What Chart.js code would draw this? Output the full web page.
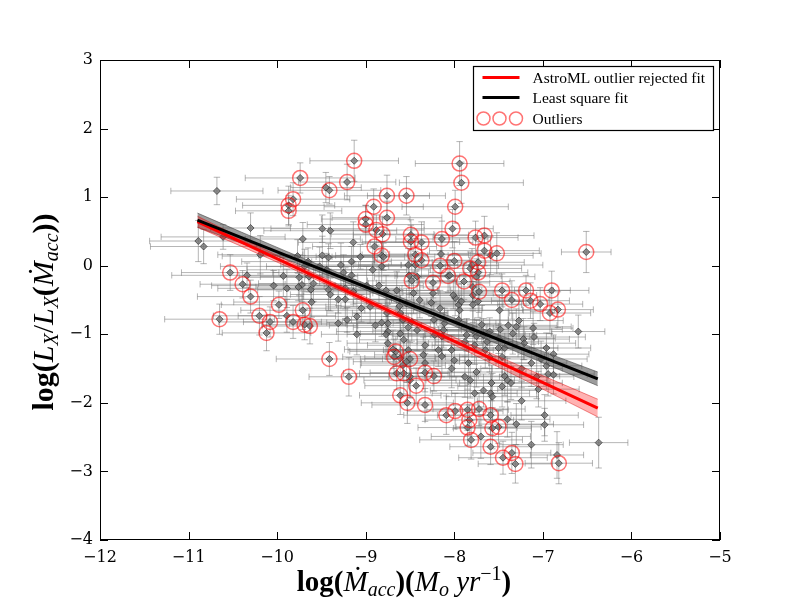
<!DOCTYPE html>
<html><head><meta charset="utf-8">
<script src="https://cdn.jsdelivr.net/npm/chart.js@4.4.1/dist/chart.umd.min.js"></script>
<style>html,body{margin:0;padding:0;background:#fff}canvas{display:block}</style>
</head><body>
<canvas id="c" width="800" height="600"></canvas>
<script>
// ---------- data ----------
const xTicks = [-12,-11,-10,-9,-8,-7,-6,-5];
const yTicks = [-4,-3,-2,-1,0,1,2,3];

// points kept by the AstroML fit (log Mdot_acc, log Lx/Lx(Mdot))
const inX = [
-10.68,-10.30,-10.89,-10.83,-10.61,-10.19,-9.71,-9.49,-9.40,-9.45,
-9.14,-9.06,-9.77,-9.49,-9.42,-9.28,-9.16,-9.25,-9.16,-9.44,
-9.52,-9.65,-9.69,-9.93,-10.04,-10.34,-9.75,-9.72,-9.76,-9.89,
-9.64,-9.59,-9.62,-9.42,-9.40,-9.31,-9.23,-9.61,-8.85,-8.92,
-8.82,-8.80,-8.65,-8.54,-9.31,-9.21,-9.10,-8.89,-8.82,-8.75,
-8.75,-8.77,-9.05,-8.95,-9.23,-9.14,-8.99,-8.77,-9.10,-8.62,
-8.61,-8.58,-8.57,-8.52,-8.69,-8.61,-8.58,-8.54,-8.50,-8.44,
-8.52,-8.51,-8.42,-8.46,-8.39,-8.26,-8.24,-8.15,-8.05,-7.99,
-7.95,-7.79,-7.79,-7.80,-7.59,-7.79,-7.75,-7.22,-7.11,-7.10,
-6.88,-6.96,-7.30,-7.39,-7.48,-7.60,-7.63,-7.50,-7.79,-7.75,
-7.94,-7.95,-8.16,-8.01,-8.14,-8.18,-8.03,-8.61,-8.76,-8.75,
-6.60,-6.37,-6.96,-6.94,-7.05,-6.98,-6.98,-7.13,-7.24,-7.30,
-7.40,-7.70,-7.49,-7.27,-7.34,-7.21,-7.13,-7.02,-7.24,-7.43,
-7.50,-7.46,-7.43,-7.40,-7.36,-7.46,-7.58,-7.59,-7.57,-7.67,
-7.77,-7.75,-7.88,-7.82,-7.84,-8.00,-8.03,-8.14,-8.33,-8.35,
-8.52,-8.50,-8.23,-8.11,-7.77,-7.86,-7.88,-7.65,-7.60,-7.69,
-7.73,-7.92,-8.48,-8.42,-8.22,-8.12,-7.67,-7.07,-6.88,-8.33,
-9.89,-6.84];
const inY = [
1.09,0.55,0.36,0.28,0.42,0.16,0.39,0.54,0.51,1.14,
0.34,0.13,0.14,0.15,0.12,0.01,0.06,-0.10,-0.14,-0.06,
-0.01,0.06,-0.01,-0.15,-0.29,-0.14,-0.17,-0.28,-0.31,-0.33,
-0.16,-0.26,-0.35,-0.35,-0.42,-0.49,-0.49,-0.53,-0.29,-0.06,
-0.01,0.13,-0.36,-0.55,-0.84,-0.79,-1.00,-0.87,-0.83,-0.84,
-0.96,-1.00,-0.62,-0.60,-0.33,-0.38,-0.29,-0.36,-0.74,-0.59,
-0.99,-0.79,-1.08,-0.90,-1.22,-1.35,-1.45,-1.40,-1.67,0.01,
0.01,-0.14,-0.16,-0.40,-0.50,-0.54,-0.40,0.17,-0.14,-0.47,
-0.57,-0.43,-0.57,0.01,0.15,-0.31,-0.16,-1.07,-0.91,-1.04,
-1.29,-1.20,-0.89,-0.87,-0.93,-0.96,-1.11,-1.06,-0.94,-1.03,
-0.65,-0.79,-0.62,-0.43,-1.03,-1.23,-1.23,-0.69,-0.69,-1.13,
-0.96,-2.58,-1.46,-1.58,-1.80,-2.18,-2.32,-2.61,-1.97,-2.31,
-2.24,-2.49,-0.65,-0.80,-0.99,-1.13,-1.42,-1.36,-1.50,-1.20,
-1.20,-1.33,-1.61,-1.67,-1.71,-1.76,-1.71,-1.86,-1.91,-1.82,
-1.86,-1.55,-1.62,-1.67,-1.42,-1.38,-1.50,-1.32,-1.42,-1.30,
-1.23,-1.62,-0.79,-0.84,-1.16,-1.01,-1.11,-1.23,-1.33,-0.86,
-0.52,-0.52,-0.82,-0.94,-1.01,-0.94,-1.01,-1.62,-1.59,-1.16,
-0.73,-2.76];
const inXErr = [
0.52,0.45,0.55,0.60,0.70,0.48,0.65,0.58,0.75,0.40,
0.62,0.50,0.85,0.72,0.55,0.68,0.45,0.80,0.52,0.90,
0.60,0.75,0.95,0.50,0.70,0.85,0.58,0.66,0.48,0.78,
0.55,0.62,0.70,0.80,0.45,0.60,0.52,0.88,0.50,0.65,
0.72,0.58,0.46,0.60,0.55,0.68,0.40,0.52,0.62,0.48,
0.58,0.44,0.70,0.50,0.64,0.56,0.48,0.60,0.52,0.66,
0.45,0.58,0.50,0.62,0.55,0.40,0.48,0.60,0.52,0.70,
0.56,0.64,0.48,0.75,0.60,0.52,0.68,0.58,0.45,0.62,
0.50,0.72,0.55,0.80,0.48,0.60,0.66,0.52,0.45,0.58,
0.40,0.50,0.62,0.55,0.70,0.48,0.58,0.64,0.52,0.60,
0.72,0.56,0.48,0.66,0.50,0.62,0.58,0.54,0.68,0.46,
0.30,0.33,0.40,0.52,0.46,0.38,0.44,0.36,0.50,0.42,
0.48,0.56,0.62,0.50,0.44,0.58,0.40,0.52,0.46,0.60,
0.54,0.48,0.62,0.45,0.58,0.50,0.66,0.44,0.52,0.60,
0.48,0.56,0.62,0.50,0.70,0.58,0.46,0.64,0.72,0.55,
0.68,0.60,0.52,0.58,0.48,0.66,0.54,0.50,0.62,0.44,
0.58,0.70,0.62,0.50,0.56,0.48,0.60,0.42,0.38,0.65,
0.55,0.30];
const inYErr = [
0.20,0.22,0.30,0.25,0.18,0.28,0.24,0.20,0.26,0.22,
0.30,0.18,0.24,0.28,0.20,0.32,0.22,0.26,0.18,0.24,
0.28,0.20,0.25,0.30,0.22,0.18,0.26,0.24,0.20,0.28,
0.22,0.26,0.18,0.30,0.24,0.20,0.28,0.22,0.26,0.32,
0.24,0.20,0.28,0.22,0.26,0.18,0.30,0.24,0.20,0.28,
0.22,0.26,0.20,0.24,0.30,0.18,0.28,0.22,0.26,0.24,
0.30,0.22,0.26,0.20,0.28,0.24,0.22,0.30,0.26,0.20,
0.24,0.28,0.22,0.30,0.26,0.20,0.24,0.28,0.22,0.26,
0.30,0.20,0.26,0.24,0.28,0.22,0.26,0.30,0.24,0.20,
0.28,0.22,0.26,0.24,0.30,0.20,0.26,0.22,0.28,0.24,
0.22,0.30,0.26,0.20,0.28,0.24,0.22,0.26,0.30,0.24,
0.24,0.37,0.28,0.32,0.26,0.30,0.24,0.34,0.28,0.30,
0.26,0.32,0.22,0.28,0.30,0.24,0.34,0.26,0.28,0.22,
0.30,0.26,0.28,0.32,0.24,0.30,0.26,0.28,0.34,0.24,
0.28,0.22,0.30,0.26,0.32,0.24,0.28,0.30,0.22,0.26,
0.24,0.30,0.26,0.22,0.28,0.24,0.30,0.26,0.22,0.28,
0.24,0.26,0.28,0.30,0.22,0.26,0.24,0.32,0.28,0.26,
0.24,0.34];

// points rejected as outliers
const outX = [
-10.65,-10.53,-10.39,-10.30,-10.20,-10.08,-10.12,-9.98,-9.82,-9.71,
-9.69,-9.63,-9.41,-9.19,-9.13,-9.74,-9.21,-9.41,-9.82,-9.87,
-9.87,-8.91,-8.76,-8.76,-9.00,-9.00,-8.88,-8.81,-8.90,-8.82,
-8.54,-7.94,-7.92,-7.99,-8.02,-8.49,-8.14,-8.37,-7.76,-7.66,
-7.66,-7.52,-6.51,-8.44,-8.37,-8.16,-8.00,-7.82,-7.73,-7.73,
-8.07,-8.48,-8.24,-7.89,-7.72,-7.46,-7.35,-7.19,-7.14,-7.03,
-6.90,-6.92,-6.83,-8.50,-8.33,-8.23,-8.43,-8.53,-8.33,-8.09,
-7.99,-7.85,-7.72,-7.59,-7.83,-7.85,-7.57,-7.50,-7.81,-7.59,
-7.35,-7.45,-7.31,-6.82,-8.66,-8.68,-8.65,-8.57,-8.61,-8.49];
const outY = [
-0.78,-0.10,-0.27,-0.45,-0.73,-0.82,-0.98,-0.57,-0.82,-0.65,
-0.86,-0.88,-1.36,-1.62,1.53,1.28,1.22,1.10,0.97,0.88,
0.80,0.86,1.02,0.70,0.68,0.60,0.52,0.46,0.28,0.15,
1.02,1.49,1.21,0.86,0.54,0.45,0.39,0.34,0.41,0.44,
0.22,0.18,0.20,0.16,0.08,0.00,0.07,-0.04,0.05,-0.10,
-0.15,-0.22,-0.25,-0.23,-0.38,-0.36,-0.50,-0.36,-0.51,-0.56,
-0.36,-0.69,-0.64,-1.36,-1.56,-1.61,-1.75,-2.00,-2.03,-2.18,
-2.12,-2.10,-2.09,-2.18,-2.25,-2.36,-2.37,-2.35,-2.54,-2.64,
-2.73,-2.80,-2.89,-2.88,-1.25,-1.33,-1.57,-1.57,-1.89,0.35];
const outXErr = [
0.62,0.55,0.48,0.60,0.52,0.58,0.50,0.65,0.56,0.70,
0.48,0.54,0.60,0.45,0.50,0.62,0.55,0.58,0.64,0.52,
0.60,0.56,0.48,0.62,0.50,0.66,0.54,0.58,0.70,0.52,
0.44,0.50,0.70,0.60,0.46,0.65,0.52,0.58,0.48,0.56,
0.62,0.50,0.28,0.60,0.54,0.66,0.48,0.58,0.52,0.56,
0.60,0.50,0.64,0.52,0.46,0.58,0.42,0.50,0.44,0.48,
0.42,0.46,0.40,0.56,0.62,0.50,0.58,0.52,0.60,0.48,
0.54,0.46,0.52,0.60,0.50,0.56,0.44,0.48,0.58,0.46,
0.44,0.50,0.42,0.38,0.52,0.58,0.60,0.50,0.46,0.55];
const outYErr = [
0.22,0.26,0.20,0.24,0.28,0.22,0.26,0.20,0.24,0.28,
0.22,0.26,0.24,0.28,0.30,0.22,0.26,0.20,0.24,0.28,
0.22,0.26,0.30,0.24,0.20,0.28,0.22,0.26,0.24,0.20,
0.28,0.32,0.30,0.24,0.28,0.22,0.26,0.30,0.24,0.28,
0.22,0.30,0.30,0.24,0.26,0.22,0.28,0.24,0.30,0.26,
0.24,0.28,0.22,0.26,0.30,0.24,0.28,0.22,0.26,0.24,
0.28,0.30,0.26,0.24,0.28,0.22,0.26,0.30,0.24,0.28,
0.26,0.30,0.24,0.28,0.22,0.26,0.30,0.24,0.28,0.26,
0.30,0.24,0.28,0.30,0.22,0.26,0.24,0.30,0.28,0.24];

// fitted lines and their confidence bands
const fitX  = [-10.90, -9.90, -8.90, -7.90, -6.38];
const lsqY  = [0.664, 0.152, -0.360, -0.872, -1.650];
const lsqLo = [0.560, 0.092, -0.405, -0.932, -1.750];
const lsqHi = [0.768, 0.212, -0.315, -0.812, -1.550];
const rejY  = [0.642, 0.041, -0.560, -1.161, -2.076];
const rejLo = [0.562, -0.005, -0.600, -1.220, -2.205];
const rejHi = [0.722, 0.087, -0.520, -1.102, -1.947];

const legendLabels = ['AstroML outlier rejected fit', 'Least square fit', 'Outliers'];
const SERIF = '"Liberation Serif", "DejaVu Serif", serif';
const xTitleParts = [
  {t:'log(', f:'bold 29px '+SERIF},
  {t:'Ṁ', f:'italic 29px '+SERIF},
  {t:'acc', f:'italic 20px '+SERIF, dy:5},
  {t:')(', f:'bold 29px '+SERIF},
  {t:'M', f:'italic 29px '+SERIF},
  {t:'o', f:'italic 20px '+SERIF, dy:5},
  {t:' yr', f:'italic 29px '+SERIF},
  {t:'−1', f:'20px '+SERIF, dy:-11},
  {t:')', f:'bold 29px '+SERIF}
];
const yTitleParts = [
  {t:'log(', f:'bold 30px '+SERIF},
  {t:'L', f:'italic 30px '+SERIF},
  {t:'X', f:'italic 20px '+SERIF, dy:5},
  {t:'/', f:'30px '+SERIF},
  {t:'L', f:'italic 30px '+SERIF},
  {t:'X', f:'italic 20px '+SERIF, dy:5},
  {t:'(', f:'bold 30px '+SERIF},
  {t:'Ṁ', f:'italic 30px '+SERIF},
  {t:'acc', f:'italic 20px '+SERIF, dy:5},
  {t:'))', f:'bold 30px '+SERIF}
];

// ---------- helpers ----------
const pts = (xs, ys) => xs.map((x, i) => ({x: x, y: ys[i]}));
const fmt = v => String(v).replace('-', '\u2212');

function drawRich(ctx, parts, cx, cy, rotate) {
  ctx.save();
  ctx.translate(cx, cy);
  if (rotate) ctx.rotate(-Math.PI / 2);
  ctx.textAlign = 'left'; ctx.textBaseline = 'alphabetic'; ctx.fillStyle = '#000';
  let w = 0;
  parts.forEach(p => { ctx.font = p.f; w += ctx.measureText(p.t).width; });
  let x = -w / 2;
  parts.forEach(p => { ctx.font = p.f; ctx.fillText(p.t, x, p.dy || 0); x += ctx.measureText(p.t).width; });
  ctx.restore();
}

const errorBars = {
  id: 'errorBars',
  beforeDatasetsDraw(chart) {
    const {ctx, chartArea: a, scales: {x, y}} = chart;
    ctx.save();
    ctx.beginPath(); ctx.rect(a.left, a.top, a.right - a.left, a.bottom - a.top); ctx.clip();
    ctx.strokeStyle = 'rgba(110,110,110,0.5)';
    ctx.lineWidth = 1;
    const cap = 3.2;
    const draw = (X, Y, XE, YE) => {
      for (let i = 0; i < X.length; i++) {
        const px = x.getPixelForValue(X[i]), py = y.getPixelForValue(Y[i]);
        const x0 = x.getPixelForValue(X[i] - XE[i]), x1 = x.getPixelForValue(X[i] + XE[i]);
        const y0 = y.getPixelForValue(Y[i] - YE[i]), y1 = y.getPixelForValue(Y[i] + YE[i]);
        ctx.beginPath();
        ctx.moveTo(x0, py); ctx.lineTo(x1, py);
        ctx.moveTo(x0, py - cap); ctx.lineTo(x0, py + cap);
        ctx.moveTo(x1, py - cap); ctx.lineTo(x1, py + cap);
        ctx.stroke();
        ctx.beginPath();
        ctx.moveTo(px, y0); ctx.lineTo(px, y1);
        ctx.moveTo(px - cap, y0); ctx.lineTo(px + cap, y0);
        ctx.moveTo(px - cap, y1); ctx.lineTo(px + cap, y1);
        ctx.stroke();
      }
    };
    draw(inX, inY, inXErr, inYErr);
    draw(outX, outY, outXErr, outYErr);
    ctx.restore();
  }
};

const frame = {
  id: 'frame',
  afterDatasetsDraw(chart) {
    const {ctx, chartArea: a, scales: {x, y}} = chart;
    ctx.save();
    ctx.strokeStyle = '#000'; ctx.lineWidth = 1;
    ctx.strokeRect(a.left + 0.5, a.top + 0.5, a.right - a.left - 1, a.bottom - a.top - 1);
    const tl = 8;
    ctx.beginPath();
    xTicks.forEach(v => {
      const p = Math.round(x.getPixelForValue(v)) + 0.5;
      ctx.moveTo(p, a.bottom); ctx.lineTo(p, a.bottom - tl);
      ctx.moveTo(p, a.top); ctx.lineTo(p, a.top + tl);
    });
    yTicks.forEach(v => {
      const p = Math.round(y.getPixelForValue(v)) + 0.5;
      ctx.moveTo(a.left, p); ctx.lineTo(a.left + tl, p);
      ctx.moveTo(a.right, p); ctx.lineTo(a.right - tl, p);
    });
    ctx.stroke();
    ctx.restore();
  }
};

const boxLegend = {
  id: 'boxLegend',
  afterDraw(chart) {
    const {ctx, chartArea: a} = chart;
    const L = a.right - 246.5, T = a.top + 6.5, W = 240, H = 64;
    ctx.save();
    ctx.fillStyle = '#fff'; ctx.fillRect(L, T, W, H);
    ctx.strokeStyle = '#000'; ctx.lineWidth = 1.2; ctx.strokeRect(L, T, W, H);
    const rows = [T + 11, T + 31, T + 52];
    ctx.lineWidth = 3;
    ctx.strokeStyle = '#ff0000';
    ctx.beginPath(); ctx.moveTo(L + 9, rows[0]); ctx.lineTo(L + 46, rows[0]); ctx.stroke();
    ctx.strokeStyle = '#000';
    ctx.beginPath(); ctx.moveTo(L + 9, rows[1]); ctx.lineTo(L + 46, rows[1]); ctx.stroke();
    ctx.strokeStyle = 'rgba(255,0,0,0.55)'; ctx.lineWidth = 1.5;
    [L + 10, L + 26, L + 42.5].forEach(cx => {
      ctx.beginPath(); ctx.arc(cx, rows[2], 6.5, 0, Math.PI * 2); ctx.stroke();
    });
    ctx.fillStyle = '#000';
    ctx.font = '15.5px ' + SERIF;
    ctx.textBaseline = 'middle'; ctx.textAlign = 'left';
    legendLabels.forEach((s, i) => ctx.fillText(s, L + 59, rows[i] + 1));
    ctx.restore();
  }
};

const titles = {
  id: 'titles',
  afterDraw(chart) {
    const ctx = chart.ctx;
    drawRich(ctx, xTitleParts, 404, 591, false);
    drawRich(ctx, yTitleParts, 53, 312, true);
  }
};

const diamond = {
  pointStyle: 'rectRot', pointRadius: 3.5,
  backgroundColor: 'rgba(110,110,110,0.75)', borderColor: 'rgba(45,45,45,0.85)', borderWidth: 0.8,
  showLine: false
};

new Chart(document.getElementById('c'), {
  type: 'scatter',
  data: {
    datasets: [
      Object.assign({data: pts(inX, inY), order: 6}, diamond),
      Object.assign({data: pts(outX, outY), order: 6}, diamond),
      {data: pts(fitX, lsqLo), showLine: true, pointRadius: 0, borderColor: 'rgba(60,60,60,0.55)', borderWidth: 1, fill: false, cubicInterpolationMode: 'monotone', order: 4},
      {data: pts(fitX, lsqHi), showLine: true, pointRadius: 0, borderColor: 'rgba(60,60,60,0.55)', borderWidth: 1, fill: '-1', backgroundColor: 'rgba(90,90,90,0.6)', cubicInterpolationMode: 'monotone', order: 4},
      {data: pts(fitX, rejLo), showLine: true, pointRadius: 0, borderColor: 'rgba(220,0,0,0.45)', borderWidth: 1, fill: false, cubicInterpolationMode: 'monotone', order: 3},
      {data: pts(fitX, rejHi), showLine: true, pointRadius: 0, borderColor: 'rgba(220,0,0,0.45)', borderWidth: 1, fill: '-1', backgroundColor: 'rgba(255,0,0,0.3)', cubicInterpolationMode: 'monotone', order: 3},
      {data: pts(fitX, rejY), showLine: true, pointRadius: 0, borderColor: '#ff0000', borderWidth: 3, fill: false, order: 2},
      {data: pts(fitX, lsqY), showLine: true, pointRadius: 0, borderColor: '#000000', borderWidth: 3, fill: false, order: 1},
      {data: pts(outX, outY), showLine: false, pointStyle: 'circle', pointRadius: 7.5, backgroundColor: 'rgba(0,0,0,0)', borderColor: 'rgba(255,0,0,0.55)', borderWidth: 1.5, order: 0}
    ]
  },
  options: {
    responsive: false,
    animation: false,
    events: [],
    layout: {padding: {top: 60, right: 80, left: 0, bottom: 0}},
    plugins: {legend: {display: false}, tooltip: {enabled: false}},
    scales: {
      x: {
        type: 'linear', min: -12, max: -5,
        afterBuildTicks: s => { s.ticks = xTicks.map(v => ({value: v})); },
        afterFit: s => { s.height = 60; },
        grid: {display: false, drawTicks: false},
        border: {display: false},
        ticks: {padding: 8, color: '#000', font: {family: 'DejaVu Serif', size: 16}, callback: v => fmt(v), maxRotation: 0, autoSkip: false}
      },
      y: {
        type: 'linear', min: -4, max: 3,
        afterBuildTicks: s => { s.ticks = yTicks.map(v => ({value: v})); },
        afterFit: s => { s.width = 100; },
        grid: {display: false, drawTicks: false},
        border: {display: false},
        ticks: {padding: 7, color: '#000', font: {family: 'DejaVu Serif', size: 16}, callback: v => fmt(v), autoSkip: false}
      }
    }
  },
  plugins: [errorBars, frame, boxLegend, titles]
});
</script>
</body></html>
